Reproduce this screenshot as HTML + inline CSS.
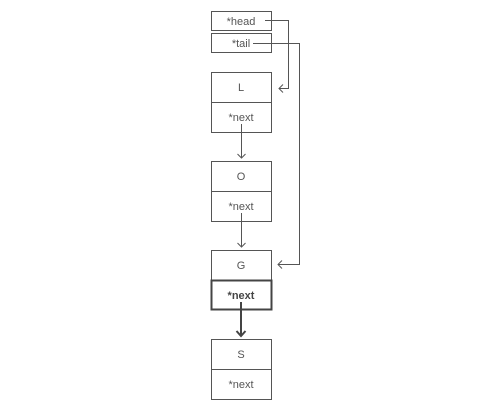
<!DOCTYPE html><html><head><style>body{margin:0;background:#fff}</style></head><body>
<svg width="481" height="410" xmlns="http://www.w3.org/2000/svg" font-family="Liberation Sans, sans-serif" font-size="11" fill="#555">
<g fill="#fff" stroke="#555" stroke-width="1">
<rect x="211.5" y="11.5" width="60" height="19"/><rect x="211.5" y="33.5" width="60" height="19"/>
<rect x="211.5" y="72.5" width="60" height="30"/><rect x="211.5" y="102.5" width="60" height="30"/>
<rect x="211.5" y="161.5" width="60" height="30"/><rect x="211.5" y="191.5" width="60" height="30"/>
<rect x="211.5" y="250.5" width="60" height="30"/>
<rect x="211.5" y="339.5" width="60" height="30"/><rect x="211.5" y="369.5" width="60" height="30"/>
</g>
<rect x="211.5" y="280.5" width="60" height="29" fill="#fff" stroke="#444" stroke-width="2"/>
<g text-anchor="middle">
<text x="241" y="25">*head</text><text x="241" y="47">*tail</text>
<text x="241" y="91">L</text><text x="241" y="121">*next</text>
<text x="241" y="180">O</text><text x="241" y="210">*next</text>
<text x="241" y="269">G</text><text x="241" y="299" font-weight="bold" fill="#444">*next</text>
<text x="241" y="358">S</text><text x="241" y="388">*next</text>
</g>
<g fill="none" stroke="#555" stroke-width="1">
<path d="M265 20.5H288.5V88.5H279"/><path d="M283 84.5l-4 4 4 4"/>
<path d="M253 43.5H299.5V264.5H278"/><path d="M282 260.5l-4 4 4 4"/>
<path d="M241.5 124V158"/><path d="M237.5 154l4 4 4-4"/>
<path d="M241.5 213V247"/><path d="M237.5 243l4 4 4-4"/>
</g>
<g fill="none" stroke="#444" stroke-width="2"><path d="M241 302V336"/><path d="M236.5 331l4.5 5 4.5-5"/></g>
</svg></body></html>
